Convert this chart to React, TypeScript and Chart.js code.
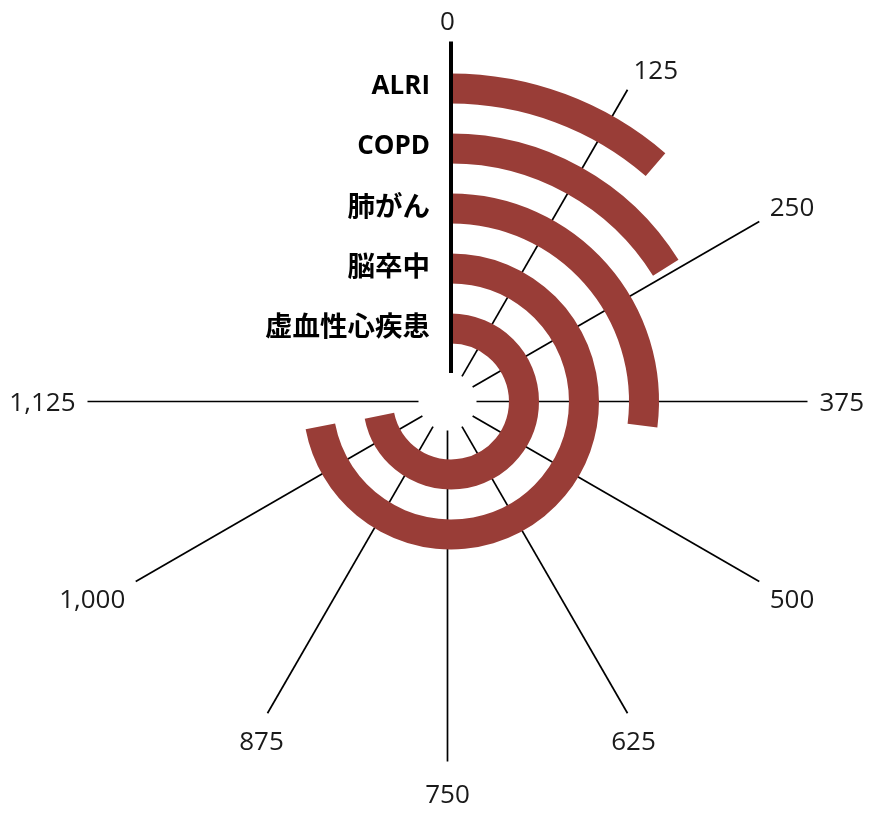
import React, { useEffect, useRef } from 'react';
import { Chart, registerables } from 'chart.js';

Chart.register(...registerables);

const categories = ['ALRI', 'COPD', '肺がん', '脳卒中', '虚血性心疾患'];
const values = [170, 242, 405, 1080, 1078];
const axisMax = 1500;
const tickValues = [0, 125, 250, 375, 500, 625, 750, 875, 1000, 1125];
const tickLabels = ['0', '125', '250', '375', '500', '625', '750', '875', '1,000', '1,125'];

const BAR_COLOR = '#993d37';
const CLEAR = 'rgba(0,0,0,0)';
const FONT_FAMILY = "'Open Sans', 'Noto Sans CJK JP', sans-serif";

const radialAxisPlugin = {
  id: 'radialAxis',
  beforeDatasetsDraw(chart: any) {
    const ctx = chart.ctx;
    const arc = chart.getDatasetMeta(0).data[0] as any;
    const cx = arc.x - 3.5;
    const cy = arc.y;
    ctx.save();
    ctx.strokeStyle = '#000';
    ctx.lineWidth = 1.7;
    tickValues.forEach((v) => {
      if (v === 0) return;
      const th = (v / axisMax) * Math.PI * 2;
      const s = Math.sin(th);
      const c = Math.cos(th);
      ctx.beginPath();
      ctx.moveTo(cx + s * 29, cy - c * 29);
      ctx.lineTo(cx + s * 360, cy - c * 360);
      ctx.stroke();
    });
    ctx.restore();
  },
  afterDatasetsDraw(chart: any) {
    const ctx = chart.ctx;
    const arc = chart.getDatasetMeta(0).data[0] as any;
    const rx = arc.x;
    const cx = arc.x - 3.5;
    const cy = arc.y;
    ctx.save();
    // main axis line at 0
    ctx.strokeStyle = '#000';
    ctx.lineWidth = 4;
    ctx.beginPath();
    ctx.moveTo(rx, cy - 28.4);
    ctx.lineTo(rx, cy - 360);
    ctx.stroke();

    // tick labels
    const fs = 26;
    ctx.font = `${fs}px ${FONT_FAMILY}`;
    ctx.fillStyle = '#1a1a1a';
    ctx.textBaseline = 'alphabetic';
    const capH = 0.714 * fs;
    tickValues.forEach((v, i) => {
      const th = (v / axisMax) * Math.PI * 2;
      const s = Math.sin(th);
      const c = Math.cos(th);
      const px = cx + s * 372;
      const py = cy - c * 372;
      let align: CanvasTextAlign = 'center';
      if (Math.abs(s) > 0.1 && c > -0.8) align = s > 0 ? 'left' : 'right';
      let baseY: number;
      if (c > 0.1) baseY = py;
      else if (c < -0.95) baseY = py + 11 + capH;
      else if (c < -0.8) baseY = py + 8 + capH;
      else if (c < -0.1) baseY = py + 2 + capH;
      else baseY = py + capH / 2;
      ctx.textAlign = align;
      ctx.fillText(tickLabels[i], px, baseY);
    });

    // category labels
    ctx.fillStyle = '#000';
    ctx.textAlign = 'right';
    ctx.textBaseline = 'middle';
    categories.forEach((name, i) => {
      const isLatin = /^[\x00-\x7f]+$/.test(name);
      ctx.font = `bold ${isLatin ? 26 : 27.5}px ${FONT_FAMILY}`;
      const a = chart.getDatasetMeta(i * 2).data[0] as any;
      const mid = (a.outerRadius + a.innerRadius) / 2;
      ctx.fillText(name, rx - 21, cy - mid - (isLatin ? 1.5 : 0));
    });
    ctx.restore();
  },
};

export default function App() {
  const ref = useRef<HTMLCanvasElement | null>(null);
  useEffect(() => {
    if (!ref.current) return;
    const datasets: any[] = [];
    categories.forEach((name, i) => {
      datasets.push({
        label: name,
        data: [values[i], axisMax - values[i]],
        backgroundColor: [BAR_COLOR, CLEAR],
        borderWidth: 0,
        weight: 1,
      });
      if (i < categories.length - 1) {
        datasets.push({
          label: 'gap' + i,
          data: [1],
          backgroundColor: [CLEAR],
          borderWidth: 0,
          weight: 1,
        });
      }
    });
    const chart = new Chart(ref.current, {
      type: 'doughnut',
      data: { labels: ['value', 'rest'], datasets },
      options: {
        responsive: false,
        animation: false,
        events: [],
        radius: 328,
        cutout: '17.68%',
        rotation: 0,
        circumference: 360,
        layout: { padding: { left: 30, right: 0, top: 0, bottom: 12 } },
        plugins: { legend: { display: false }, tooltip: { enabled: false } },
      } as any,
      plugins: [radialAxisPlugin],
    });
    return () => chart.destroy();
  }, []);
  return (
    <div style={{ position: 'absolute', left: 0, top: 0, width: 872, height: 815 }}>
      <canvas ref={ref} width={872} height={815} style={{ display: 'block', width: 872, height: 815 }} />
    </div>
  );
}
